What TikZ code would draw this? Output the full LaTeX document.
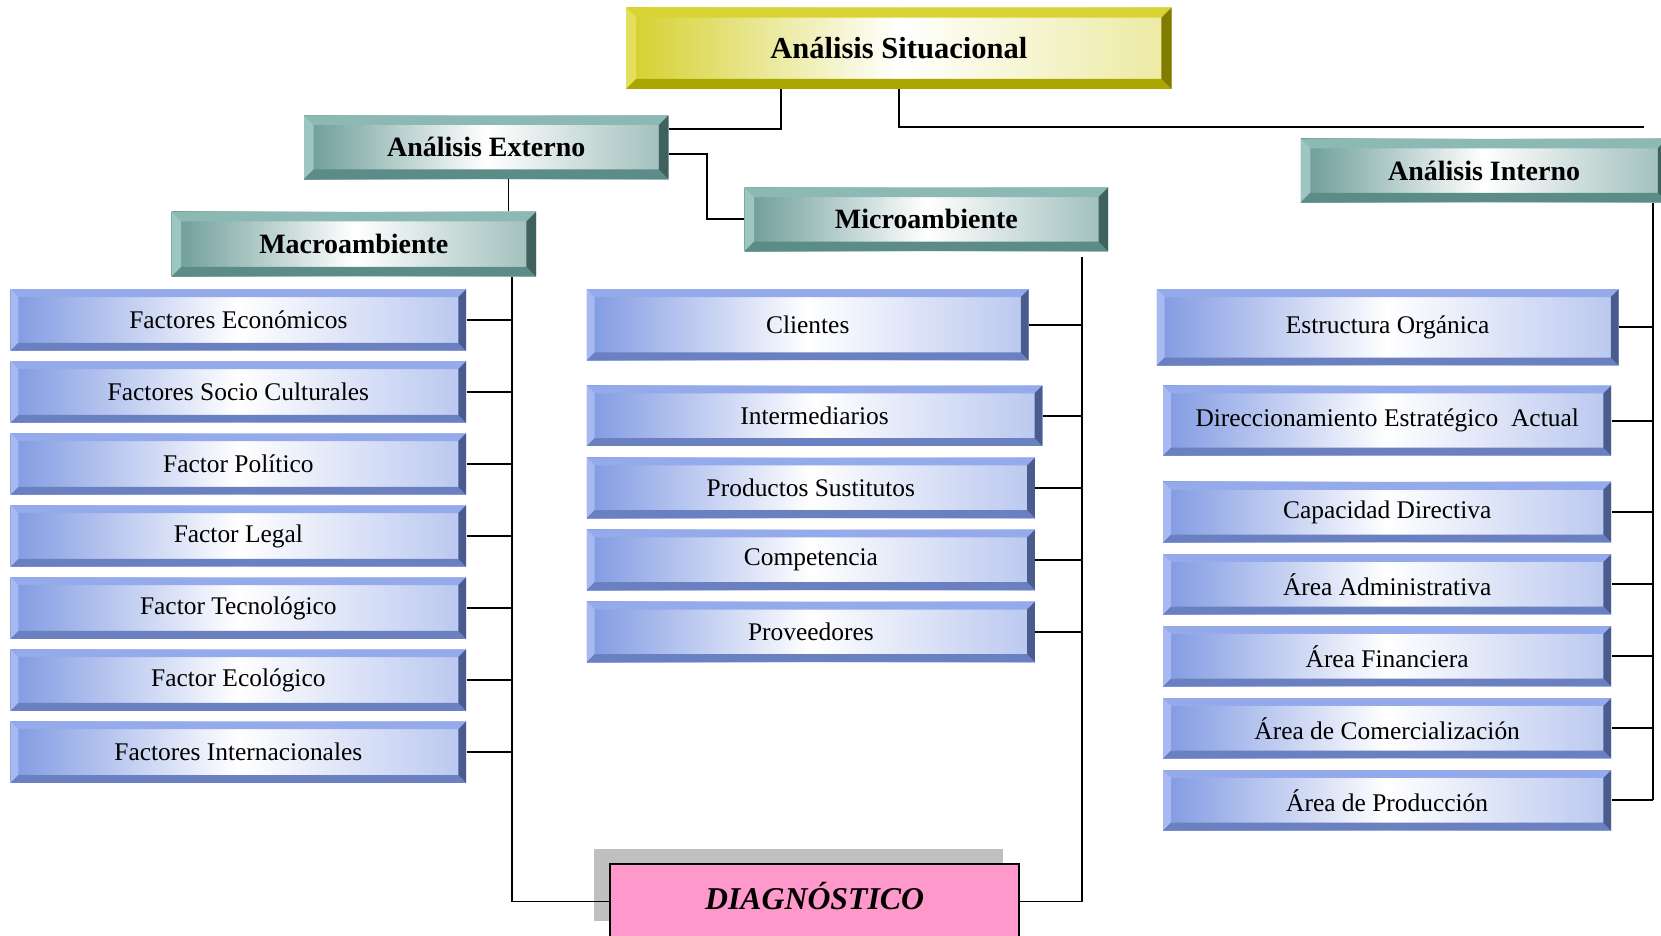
\documentclass[tikz,border=0pt]{standalone}
\usepackage{fontspec}
\setmainfont{Liberation Serif}

% yellow family
\definecolor{yTop}{HTML}{D8D434}
\definecolor{yLeft}{HTML}{E4E05C}
\definecolor{yBot}{HTML}{ABA700}
\definecolor{yRight}{HTML}{817B00}
\definecolor{yFace}{HTML}{D4D02C}
% teal family
\definecolor{tTop}{HTML}{8CB9B4}
\definecolor{tLeft}{HTML}{9DC5C1}
\definecolor{tBot}{HTML}{5B8C87}
\definecolor{tRight}{HTML}{3F625E}
\definecolor{tFace}{HTML}{6A9B96}
% blue family
\definecolor{bTop}{HTML}{94AAEA}
\definecolor{bLeft}{HTML}{A7B9F0}
\definecolor{bBot}{HTML}{6A80C0}
\definecolor{bRight}{HTML}{4A5C8E}
\definecolor{bFace}{HTML}{8099E2}
% diagnosis box
\definecolor{pinkFace}{HTML}{FF99CC}
\definecolor{shadowGray}{HTML}{C0C0C0}

% four bevel faces inside the node outline
\newcommand\bevelframe[5]{%
  \fill[#1] (path picture bounding box.north west) -- (path picture bounding box.north east)
    -- ([xshift=-#5,yshift=-#5]path picture bounding box.north east)
    -- ([xshift=#5,yshift=-#5]path picture bounding box.north west) -- cycle;
  \fill[#2] (path picture bounding box.north west)
    -- ([xshift=#5,yshift=-#5]path picture bounding box.north west)
    -- ([xshift=#5,yshift=#5]path picture bounding box.south west)
    -- (path picture bounding box.south west) -- cycle;
  \fill[#3] (path picture bounding box.south west) -- (path picture bounding box.south east)
    -- ([xshift=-#5,yshift=#5]path picture bounding box.south east)
    -- ([xshift=#5,yshift=#5]path picture bounding box.south west) -- cycle;
  \fill[#4] (path picture bounding box.north east) -- (path picture bounding box.south east)
    -- ([xshift=-#5,yshift=#5]path picture bounding box.south east)
    -- ([xshift=-#5,yshift=-#5]path picture bounding box.north east) -- cycle;
}

% a box node given by its corner coordinates (picture units)
\newcommand\cornerbox[7]{%
  \pgfmathsetmacro\bw{(#5-#3)*0.5}%
  \pgfmathsetmacro\bh{(#6-#4)*0.5}%
  \pgfmathsetmacro\bx{(#3+#5)/2}%
  \pgfmathsetmacro\by{(#4+#6)/2}%
  \node[#1, minimum width=\bw pt, minimum height=\bh pt] (#2) at (\bx,\by) {#7};%
}

\tikzset{
  box/.style={inner sep=0pt, align=center},
  topbox/.style={box, font=\fontsize{14.4}{16}\selectfont\bfseries,
    left color=yFace, right color=yFace!45!white, middle color=white,
    path picture={\bevelframe{yTop}{yLeft}{yBot}{yRight}{4.8pt}}},
  tealbox/.style={box, font=\fontsize{13.2}{15}\selectfont\bfseries,
    left color=tFace, right color=tFace!65!white, middle color=white,
    path picture={\bevelframe{tTop}{tLeft}{tBot}{tRight}{4.5pt}}},
  bluebox/.style={box, font=\fontsize{12}{14}\selectfont,
    left color=bFace, right color=bFace!55!white, middle color=white,
    path picture={\bevelframe{bTop}{bLeft}{bBot}{bRight}{3.7pt}}},
  diagbox/.style={box, draw=black, line width=0.9pt, fill=pinkFace,
    font=\fontsize{15}{17}\selectfont\bfseries\itshape},
  conn/.style={draw=black, line width=0.9pt},
}

\begin{document}
\begin{tikzpicture}[x=0.5pt, y=-0.5pt]
\useasboundingbox (0,0) rectangle (1568,883);

% header level
\cornerbox{topbox}{sit}{591}{7}{1106}{84}{Análisis Situacional}
\cornerbox{tealbox}{ext}{287}{109}{631}{169}{Análisis Externo}
\cornerbox{tealbox}{mac}{162}{200}{506}{261}{Macroambiente}
\cornerbox{tealbox}{mic}{703}{177}{1046}{237}{Microambiente}
\cornerbox{tealbox}{int}{1228}{131}{1574}{191}{Análisis Interno}

% macro environment
\cornerbox{bluebox}{m1}{10}{273}{440}{331}{Factores Económicos}
\cornerbox{bluebox}{m2}{10}{341}{440}{399}{Factores Socio Culturales}
\cornerbox{bluebox}{m3}{10}{409}{440}{467}{Factor Político}
\cornerbox{bluebox}{m4}{10}{477}{440}{535}{Factor Legal}
\cornerbox{bluebox}{m5}{10}{545}{440}{603}{Factor Tecnológico}
\cornerbox{bluebox}{m6}{10}{613}{440}{671}{Factor Ecológico}
\cornerbox{bluebox}{m7}{10}{681}{440}{739}{Factores Internacionales}

% micro environment
\cornerbox{bluebox}{c1}{554}{273}{971}{340}{Clientes}
\cornerbox{bluebox}{c2}{554}{364}{984}{421}{Intermediarios}
\cornerbox{bluebox}{c3}{554}{432}{977}{489}{Productos Sustitutos}
\cornerbox{bluebox}{c4}{554}{500}{977}{557}{Competencia}
\cornerbox{bluebox}{c5}{554}{568}{977}{625}{Proveedores}

% internal analysis
\cornerbox{bluebox}{i1}{1092}{273}{1528}{345}{Estructura Orgánica}
\cornerbox{bluebox}{i2}{1098}{364}{1521}{430}{Direccionamiento Estratégico\ \ Actual}
\cornerbox{bluebox}{i3}{1098}{455}{1521}{512}{Capacidad Directiva}
\cornerbox{bluebox}{i4}{1098}{523}{1521}{580}{Área Administrativa}
\cornerbox{bluebox}{i5}{1098}{591}{1521}{648}{Área Financiera}
\cornerbox{bluebox}{i6}{1098}{659}{1521}{716}{Área de Comercialización}
\cornerbox{bluebox}{i7}{1098}{727}{1521}{784}{Área de Producción}

% diagnosis with its drop shadow
\fill[shadowGray] (561,801) rectangle (947,869);
\cornerbox{diagbox}{diag}{576}{816}{962}{886}{\raisebox{5pt}{DIAGNÓSTICO}}

% junction points and bus lines
\coordinate (j1) at (737,122);
\coordinate (j2) at (667,145);
\coordinate (j3) at (480,0);
\coordinate (rEnd) at (1552,120);
\coordinate (busL) at (483,0);
\coordinate (busM) at (1021,243);
\coordinate (busI) at (1560,0);

\draw[conn] (sit.south -| j1) -- (j1) -- (ext.east |- j1);
\draw[conn] (sit.south) |- (rEnd);
\draw[conn] (ext.east |- j2) -- (j2) |- (mic.west);
\draw[conn] (ext.south -| j3) -- (mac.north -| j3);

\draw[conn] (mac.south -| busL) |- (diag.west);
\foreach \n in {m1,m2,m3,m4,m5,m6,m7}
  \draw[conn] (\n.east) -- (\n.east -| busL);

\draw[conn] (busM) |- (diag.east);
\foreach \n in {c1,c2,c3,c4,c5}
  \draw[conn] (\n.east) -- (\n.east -| busM);

\draw[conn] (int.south -| busI) -- (i7.east -| busI);
\foreach \n in {i1,i2,i3,i4,i5,i6,i7}
  \draw[conn] (\n.east) -- (\n.east -| busI);
\end{tikzpicture}
\end{document}
